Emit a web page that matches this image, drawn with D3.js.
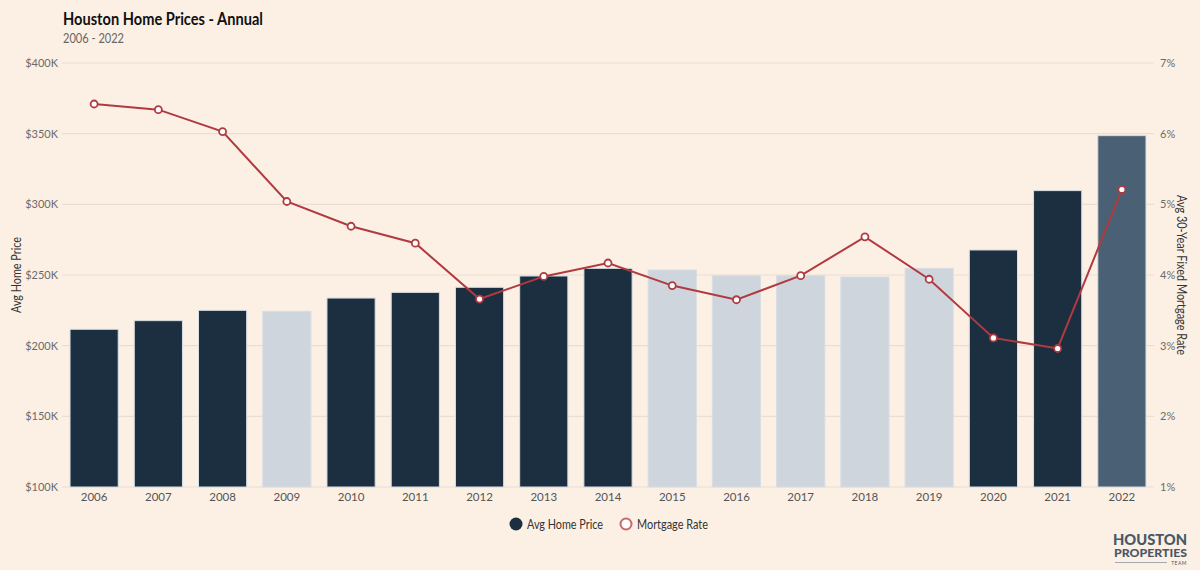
<!DOCTYPE html>
<html><head><meta charset="utf-8">
<script src="https://cdn.jsdelivr.net/npm/d3@7"></script>
<style>
html,body{margin:0;padding:0;background:#fcf0e5;}
svg{display:block;font-family:Lato,"Open Sans",sans-serif;}
</style></head>
<body>
<svg id="chart" width="1200" height="570"></svg>
<script>
const years = ["2006","2007","2008","2009","2010","2011","2012","2013","2014","2015","2016","2017","2018","2019","2020","2021","2022"];
const avgHomePrice = [211.6,217.7,225.0,224.3,233.7,237.7,241.3,249.3,254.7,253.5,249.5,249.5,248.6,254.7,267.7,309.7,348.6];
const mortgageRate = [6.42,6.34,6.03,5.04,4.69,4.45,3.66,3.98,4.17,3.85,3.65,3.99,4.54,3.94,3.11,2.96,5.21];
const barGroup = ["dark","dark","dark","light","dark","dark","dark","dark","dark","light","light","light","light","light","dark","dark","mid"];
const priceTicks = [100,150,200,250,300,350,400];
const rateTicks = [1,2,3,4,5,6,7];

const colors = {dark:"#1b2f40", light:"#cfd5dd", mid:"#4a6175"};
const lineColor = "#b03a40";
const svg = d3.select("#chart");
const W = 1200, H = 570;
const m = {left:62, right:46, top:63, bottom:83};

svg.append("rect").attr("width",W).attr("height",H).attr("fill","#fcf0e5");

const x = d3.scaleBand().domain(years).range([m.left, W - m.right]).paddingInner(0.25).paddingOuter(0.125);
const y = d3.scaleLinear().domain([100,400]).range([H - m.bottom, m.top]);
const yR = d3.scaleLinear().domain([1,7]).range([H - m.bottom, m.top]);

// gridlines
svg.append("g").selectAll("line").data(priceTicks).join("line")
  .attr("x1", m.left).attr("x2", W - m.right)
  .attr("y1", d => y(d)).attr("y2", d => y(d))
  .attr("stroke","#eaddd2").attr("stroke-width",1.2);

// left axis
const la = svg.append("g").attr("transform",`translate(${m.left},0)`)
  .call(d3.axisLeft(y).tickValues(priceTicks).tickFormat(d => "$" + d + "K").tickSize(0).tickPadding(4));
la.select(".domain").remove();
la.selectAll("text").attr("fill","#6b6b6b").attr("font-size",11).attr("font-family","Lato");

// right axis
const ra = svg.append("g").attr("transform",`translate(${W - m.right},0)`)
  .call(d3.axisRight(yR).tickValues(rateTicks).tickFormat(d => d + "%").tickSize(0).tickPadding(6));
ra.select(".domain").remove();
ra.selectAll("text").attr("fill","#6b6b6b").attr("font-size",11).attr("font-family","Lato");

// bottom axis
const ba = svg.append("g").attr("transform",`translate(0,${H - m.bottom})`)
  .call(d3.axisBottom(x).tickSize(0).tickPadding(6));
ba.select(".domain").remove();
ba.selectAll("text").attr("fill","#555").attr("font-size",11.5).attr("font-family","Lato");

// bars
svg.append("g").selectAll("rect").data(years).join("rect")
  .attr("x", d => x(d)).attr("width", x.bandwidth())
  .attr("y", (d,i) => y(avgHomePrice[i]))
  .attr("height", (d,i) => y(100) - y(avgHomePrice[i]))
  .attr("fill", (d,i) => colors[barGroup[i]])
  .attr("stroke","#d8dde3").attr("stroke-width",1);

// line
const line = d3.line().x((d,i) => x(years[i]) + x.bandwidth()/2).y(d => yR(d));
svg.append("path").datum(mortgageRate).attr("d", line)
  .attr("fill","none").attr("stroke",lineColor).attr("stroke-width",2);
svg.append("g").selectAll("circle").data(mortgageRate).join("circle")
  .attr("cx",(d,i) => x(years[i]) + x.bandwidth()/2).attr("cy", d => yR(d))
  .attr("r",3.5).attr("fill","#fff").attr("stroke",lineColor).attr("stroke-width",1.8);

function fit(sel, len){ return sel.attr("textLength", len).attr("lengthAdjust","spacingAndGlyphs"); }

// axis titles
fit(svg.append("text").attr("transform",`translate(21,${(m.top + H - m.bottom)/2}) rotate(-90)`)
  .attr("text-anchor","middle").attr("font-size",12.5).attr("fill","#333").text("Avg Home Price"), 76);
fit(svg.append("text").attr("transform",`translate(1177,${(m.top + H - m.bottom)/2}) rotate(90)`)
  .attr("text-anchor","middle").attr("font-size",12.5).attr("fill","#333").text("Avg 30-Year Fixed Mortgage Rate"), 160);

// title
fit(svg.append("text").attr("x",63).attr("y",25).attr("font-size",16.5).attr("font-weight","bold").attr("fill","#111")
  .text("Houston Home Prices - Annual"), 200);
fit(svg.append("text").attr("x",63).attr("y",43).attr("font-size",12.5).attr("fill","#666").text("2006 - 2022"), 61);

// legend
const lg = svg.append("g");
lg.append("circle").attr("cx",516).attr("cy",524).attr("r",6.5).attr("fill",colors.dark);
fit(lg.append("text").attr("x",527).attr("y",528.5).attr("font-size",12.5).attr("fill","#333").text("Avg Home Price"), 76);
lg.append("circle").attr("cx",626).attr("cy",524).attr("r",5.5).attr("fill","#fff").attr("stroke","#c66a6e").attr("stroke-width",2);
fit(lg.append("text").attr("x",637).attr("y",528.5).attr("font-size",12.5).attr("fill","#333").text("Mortgage Rate"), 71);

// logo
const logo = svg.append("g").attr("fill","#4a5866");
fit(logo.append("text").attr("x",1113).attr("y",545).attr("font-size",15.5).attr("font-weight","900").text("HOUSTON"), 74);
fit(logo.append("text").attr("x",1114).attr("y",557).attr("font-size",11).attr("font-weight","900").text("PROPERTIES"), 73);
logo.append("line").attr("x1",1115).attr("x2",1167).attr("y1",562.5).attr("y2",562.5).attr("stroke","#8a96a2").attr("stroke-width",0.8);
logo.append("text").attr("x",1187).attr("y",565).attr("text-anchor","end").attr("font-size",5).attr("letter-spacing",0.5).text("TEAM");
</script>
</body></html>
